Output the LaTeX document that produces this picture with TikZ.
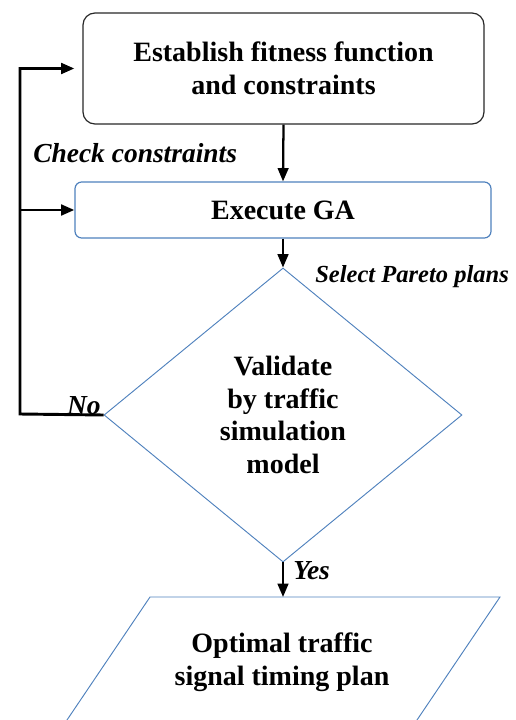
\documentclass[tikz,border=0pt]{standalone}
\usepackage{fontspec}
\setmainfont{Liberation Serif}
\usetikzlibrary{shapes.geometric,arrows.meta}
\definecolor{boxblue}{RGB}{79,129,189}
\definecolor{boxdark}{RGB}{40,40,40}
\begin{document}
\begin{tikzpicture}[x=0.75pt,y=-0.75pt,
  tip/.style={-{Triangle[length=10pt,width=8pt]}},
  arr/.style={line width=1.7pt,tip},
  fbline/.style={line width=2.2pt},
  boxfont/.style={font=\fontsize{21}{24.5}\selectfont\bfseries, align=center},
  lbl/.style={font=\fontsize{20.6}{24}\selectfont\bfseries\itshape, inner sep=0pt},
  slbl/.style={font=\fontsize{18.4}{22}\selectfont\bfseries\itshape, inner sep=0pt}]
\useasboundingbox (0,0) rectangle (516,720);
\clip (0,0) rectangle (516,720);
% nodes
\node[boxfont, draw=boxdark, line width=0.9pt, rounded corners=9pt,
      minimum width=300.75pt, minimum height=83.25pt, inner sep=0pt] (top) at (283.5,68.5)
      {Establish fitness function\\and constraints};
\node[boxfont, draw=boxblue, line width=0.9pt, rounded corners=5pt,
      minimum width=312pt, minimum height=42pt, inner sep=0pt] (exe) at (283,210) {Execute GA};
\node[boxfont, draw=boxblue, line width=0.7pt, diamond, inner sep=0pt,
      minimum width=268.5pt, minimum height=220.5pt] (dia) at (283,415)
      {Validate\\by traffic\\simulation\\model};
% parallelogram
\coordinate (p1) at (150,597);
\coordinate (p2) at (500,597);
\coordinate (p3) at (411.6,728);
\coordinate (p4) at (61.6,728);
\draw[boxblue, line width=0.7pt] (p1) -- (p2) -- (p3) -- (p4) -- cycle;
\node[boxfont, inner sep=0pt] (out) at (282,662) {Optimal traffic\\signal timing plan};
\coordinate (outtop) at (283,597);
% main arrows
\draw[arr] (top.south) -- (exe.north);
\draw[arr] (exe.south) -- (dia.north);
\draw[arr] (dia.south) -- (outtop);
% feedback
\coordinate (fbb) at (20,414);
\coordinate (fbt) at (20,68.5);
\coordinate (fbm) at (20,210);
\draw[fbline, tip, shorten >=6pt] (dia.west) -- (fbb) -- (fbt) -- (top.west);
\draw[fbline, tip] (fbm) -- (exe.west);
% labels
\node[lbl, anchor=base west] (chk) at (33,163) {Check constraints};
\node[slbl, anchor=base west] (sel) at (315,282) {Select Pareto plans};
\node[lbl, anchor=base east] (no) at (101,414) {No};
\node[lbl, anchor=base west] (yes) at (293,579) {Yes};
\end{tikzpicture}
\end{document}
